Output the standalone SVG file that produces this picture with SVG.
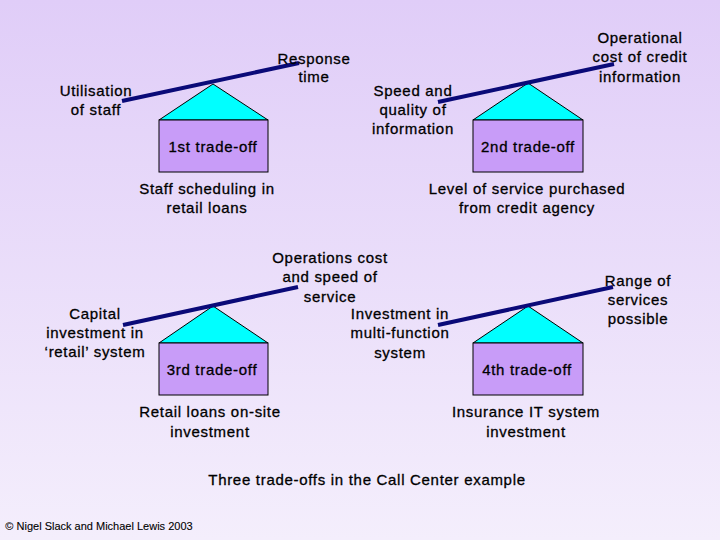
<svg xmlns="http://www.w3.org/2000/svg" width="720" height="540" viewBox="0 0 720 540">
<defs>
<linearGradient id="bg" x1="0" y1="0" x2="0" y2="1"><stop offset="0" stop-color="#e0cdf8"/><stop offset="1" stop-color="#f4eefc"/></linearGradient>
<style>
text{font-family:"Liberation Sans",Arial,sans-serif;font-size:15px;fill:#000;text-anchor:middle;letter-spacing:0.7px;stroke:#000;stroke-width:0.3px}
.roof{fill:#00ffff;stroke:#000;stroke-width:1}
.box{fill:#c89cf8;stroke:#000;stroke-width:1}
.beam{stroke:#0a0a78;stroke-width:4;fill:none}
</style>
</defs>
<rect width="720" height="540" fill="url(#bg)"/>
<g id="node1">
<polygon class="roof" points="213,84 159,120 268,120"/>
<rect class="box" x="159" y="120" width="109" height="52"/>
<text x="213" y="152">1st trade-off</text>
<text x="207" y="194">Staff scheduling in</text><text x="207" y="213">retail loans</text>
</g>
<g id="node2">
<polygon class="roof" points="528,83 473,120 583,120"/>
<rect class="box" x="473" y="120" width="110" height="52"/>
<text x="528" y="152">2nd trade-off</text>
<text x="527" y="194">Level of service purchased</text><text x="527" y="213">from credit agency</text>
</g>
<g id="node3">
<polygon class="roof" points="213,306 159,343 268,343"/>
<rect class="box" x="159" y="343" width="109" height="52"/>
<text x="212" y="375">3rd trade-off</text>
<text x="210" y="417">Retail loans on-site</text><text x="210" y="437">investment</text>
</g>
<g id="node4">
<polygon class="roof" points="528,306 473,343 583,343"/>
<rect class="box" x="473" y="343" width="110" height="52"/>
<text x="527" y="375">4th trade-off</text>
<text x="526" y="417">Insurance IT system</text><text x="526" y="437">investment</text>
</g>
<g id="connectors">
<line class="beam" x1="122" y1="101" x2="299" y2="63"/>
<line class="beam" x1="438" y1="102" x2="614" y2="64"/>
<line class="beam" x1="123" y1="325" x2="298" y2="287"/>
<line class="beam" x1="438" y1="325" x2="613" y2="287"/>
</g>
<g id="labels">
<text x="96" y="96">Utilisation</text><text x="96" y="115">of staff</text>
<text x="314" y="64">Response</text><text x="314" y="82">time</text>
<text x="413" y="96">Speed and</text><text x="413" y="115">quality of</text><text x="413" y="134">information</text>
<text x="640" y="43">Operational</text><text x="640" y="62">cost of credit</text><text x="640" y="82">information</text>
<text x="330" y="263">Operations cost</text><text x="330" y="282">and speed of</text><text x="330" y="302">service</text>
<text x="95" y="319">Capital</text><text x="95" y="338">investment in</text><text x="95" y="357">‘retail’ system</text>
<text x="400" y="319">Investment in</text><text x="400" y="338">multi-function</text><text x="400" y="358">system</text>
<text x="638" y="286">Range of</text><text x="638" y="305">services</text><text x="638" y="324">possible</text>
<text x="367" y="485">Three trade-offs in the Call Center example</text>
<text x="99" y="530" style="font-size:11px;letter-spacing:0;stroke-width:0.1px">© Nigel Slack and Michael Lewis 2003</text>
</g>
</svg>
